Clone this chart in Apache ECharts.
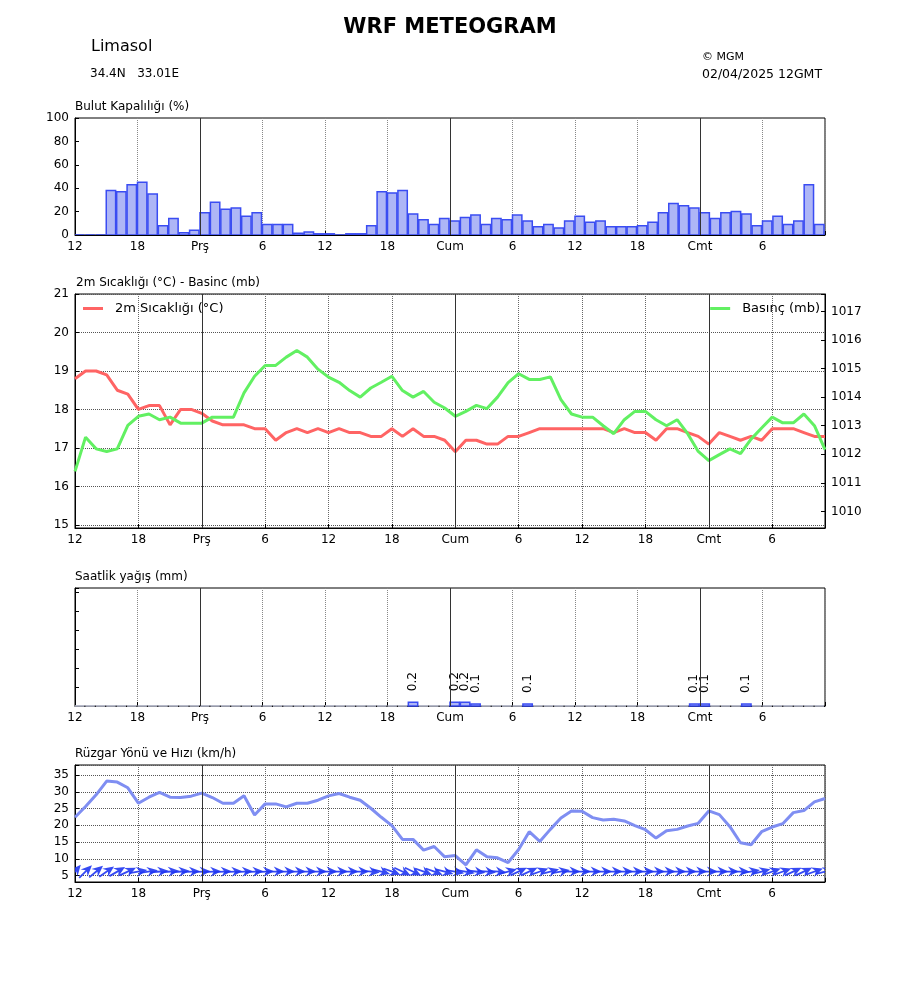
<!DOCTYPE html>
<html><head><meta charset="utf-8">
<script src="https://cdn.jsdelivr.net/npm/echarts@6/dist/echarts.min.js"></script>
<style>html,body{margin:0;padding:0;background:#fff}#c{width:900px;height:1000px}</style>
</head><body><div id="c"></div>
<script>
// ---- data ----
const hourTickLabels = ['12','18','Prş','6','12','18','Cum','6','12','18','Cmt','6'];
const dayStartHours = [12, 36, 60];
const cloudCover = [0,0,0,38,37,43,45,35,8,14,2,4,19,28,22,23,16,19,9,9,9,1.5,2.5,1,1,0,1,1,8,37,36,38,18,13,9,14,12,15,17,9,14,13,17,12,7,9,6,12,16,11,12,7,7,7,8,11,19,27,25,23,19,14,19,20,18,8,12,16,9,12,43,9];
const temperature = [18.8,19.0,19.0,18.9,18.5,18.4,18.0,18.1,18.1,17.6,18.0,18.0,17.9,17.7,17.6,17.6,17.6,17.5,17.5,17.2,17.4,17.5,17.4,17.5,17.4,17.5,17.4,17.4,17.3,17.3,17.5,17.3,17.5,17.3,17.3,17.2,16.9,
  17.2,17.2,17.1,17.1,17.3,17.3,17.4,17.5,17.5,17.5,17.5,17.5,17.5,17.5,17.4,17.5,17.4,17.4,17.2,17.5,17.5,17.4,17.3,17.1,17.4,17.3,17.2,17.3,17.2,17.5,17.5,17.5,17.4,17.3,17.3];
const pressure = [1011.40,1012.60,1012.19,1012.10,1012.19,1013.01,1013.33,1013.41,1013.21,1013.30,1013.09,1013.09,1013.09,1013.30,1013.30,1013.30,1014.15,1014.73,1015.11,1015.11,1015.40,1015.63,1015.40,1014.98,1014.70,1014.52,1014.23,1014.00,1014.32,1014.52,1014.73,1014.23,1014.00,1014.20,1013.82,1013.62,1013.33,
  1013.50,1013.71,1013.60,1014.00,1014.51,1014.82,1014.62,1014.62,1014.71,1013.91,1013.41,1013.30,1013.30,1013.00,1012.72,1013.21,1013.50,1013.50,1013.21,1013.00,1013.21,1012.72,1012.10,1011.78,1011.99,1012.19,1012.02,1012.53,1012.92,1013.30,1013.10,1013.10,1013.41,1013.00,1012.16];
const precipitation = [0,0,0,0,0,0,0,0,0,0,0,0,0,0,0,0,0,0,0,0,0,0,0,0,0,0,0,0,0,0,0,0,0.2,0,0,0,0.2,0.2,0.1,0,0,0,0,0.1,0,0,0,0,0,0,0,0,0,0,0,0,0,0,0,0.1,0.1,0,0,0,0.1,0,0,0,0,0,0,0];
const windSpeed = [22.4,25.6,29.1,33.2,32.9,31.2,26.6,28.4,29.8,28.4,28.3,28.7,29.6,28.3,26.6,26.6,28.8,23.1,26.4,26.4,25.5,26.6,26.6,27.5,28.8,29.5,28.4,27.5,25.1,22.4,19.9,15.8,15.8,12.6,13.7,10.6,11.0,
  8.2,12.7,10.6,10.3,8.9,12.8,18.1,15.2,18.8,22.2,24.3,24.2,22.3,21.6,21.8,21.3,19.9,18.7,16.2,18.4,18.8,19.8,20.6,24.3,23.2,19.6,14.8,14.2,18.1,19.5,20.5,23.8,24.4,27.0,28.0];
// arrow heading in degrees (0 = towards east, positive = upward)
const windHeading = [50,45,40,35,30,25,
  10,8,5,5,5,3,3,3,3,3,3,3,3,0,0,0,0,0,0,0,0,0,
  -5,-15,-20,-25,-25,-20,-20,-15,-10,
  -10,-8,-5,-5,
  15,25,25,20,15,10,
  0,0,0,0,0,0,0,0,0,0,0,0,0,0,0,0,0,
  10,15,20,20,25,25,20,15];

// ---- styles ----
const FONT = 'DejaVu Sans';
const barFill = '#aeb6f6', barEdge = '#3a4cf2';
const L = 75, W = 750;
const grids = [
  {left: L, top: 118, width: W, height: 117},
  {left: L, top: 294, width: W, height: 234},
  {left: L, top: 588, width: W, height: 118},
  {left: L, top: 765, width: W, height: 117}
];
const xMax = [72, 71, 72, 71];

function xAxisFor(i) {
  return {
    type: 'value', gridIndex: i, min: 0, max: xMax[i], interval: 6,
    axisLine: {show: true, onZero: false, lineStyle: {color: '#000', width: 1}},
    axisTick: {show: true, inside: true, length: 4, lineStyle: {color: '#000'}},
    axisLabel: {
      color: '#000', fontSize: 12, fontFamily: FONT, margin: 6,
      formatter: v => (v % 6 === 0 && v / 6 < hourTickLabels.length) ? hourTickLabels[v / 6] : ''
    },
    splitLine: {show: true, lineStyle: {color: i === 1 || i === 3 ? '#666' : '#888', type: 'dotted', width: 1}}
  };
}
const intFmt = v => Math.abs(v - Math.round(v)) < 1e-6 ? String(Math.round(v)) : '';
const yBase = {
  axisLine: {show: true, lineStyle: {color: '#000'}},
  axisTick: {show: true, inside: true, length: 4, lineStyle: {color: '#000'}},
  axisLabel: {color: '#000', fontSize: 12, fontFamily: FONT, margin: 6}
};
const dayLines = {
  silent: true, symbol: 'none', label: {show: false},
  lineStyle: {color: '#333', type: 'solid', width: 1},
  data: dayStartHours.map(h => ({xAxis: h}))
};

function barRenderer(edgeZero) {
  return function (params, api) {
    const h = api.value(0), v = api.value(1);
    const p0 = api.coord([h, 0]);
    const p1 = api.coord([h + 0.9, v]);
    return {
      type: 'rect',
      shape: {x: p0[0], y: p1[1], width: p1[0] - p0[0], height: p0[1] - p1[1]},
      style: {fill: barFill, stroke: v === 0 && edgeZero ? edgeZero : barEdge, lineWidth: 1.5}
    };
  };
}

const arrowPts = [[-9,-0.9],[1,-0.9],[-2,-5],[9,0],[-2,5],[1,0.9],[-9,0.9]];
const arrowLevel = 6.2;

const option = {
  animation: false,
  backgroundColor: '#fff',
  textStyle: {fontFamily: FONT},
  grid: grids.map(g => Object.assign({show: true, borderColor: '#000', borderWidth: 1, backgroundColor: 'transparent'}, g)),
  xAxis: [0,1,2,3].map(xAxisFor),
  yAxis: [
    Object.assign({}, yBase, {type: 'value', gridIndex: 0, min: 0, max: 100, interval: 20, splitLine: {show: false}}),
    Object.assign({}, yBase, {type: 'value', gridIndex: 1, min: 14.92, max: 21, minInterval: 1, maxInterval: 1, splitNumber: 6,
      axisLabel: Object.assign({}, yBase.axisLabel, {formatter: intFmt}),
      splitLine: {show: true, lineStyle: {color: '#555', type: 'dotted', width: 1}}}),
    Object.assign({}, yBase, {type: 'value', gridIndex: 1, position: 'right', min: 1009.42, max: 1017.61, minInterval: 1, maxInterval: 1, splitNumber: 8,
      axisLabel: Object.assign({}, yBase.axisLabel, {formatter: intFmt}),
      splitLine: {show: false}}),
    Object.assign({}, yBase, {type: 'value', gridIndex: 2, min: 0, max: 6.2, interval: 1,
      axisLabel: {show: false}, splitLine: {show: false}}),
    Object.assign({}, yBase, {type: 'value', gridIndex: 3, min: 3.1, max: 38, minInterval: 5, maxInterval: 5, splitNumber: 7,
      axisLabel: Object.assign({}, yBase.axisLabel, {formatter: v => (Math.abs(v % 5) < 1e-6 ? String(v) : '')}),
      splitLine: {show: true, lineStyle: {color: '#555', type: 'dotted', width: 1}}})
  ],
  legend: [
    {data: ['2m Sıcaklığı (°C)'], left: 83, top: 302, padding: 0, icon: 'rect', itemWidth: 20, itemHeight: 3,
      textStyle: {fontSize: 13, fontFamily: FONT, color: '#000', padding: [0,0,0,7]}},
    {data: ['Basınç (mb)'], right: 80, top: 302, padding: 0, icon: 'rect', itemWidth: 20, itemHeight: 3,
      textStyle: {fontSize: 13, fontFamily: FONT, color: '#000', padding: [0,0,0,7]}}
  ],
  graphic: [
    {type: 'text', left: 'center', top: 17, style: {text: 'WRF METEOGRAM', font: 'bold 21px "DejaVu Sans"', fill: '#000'}},
    {type: 'text', x: 91, y: 47, style: {text: 'Limasol', font: '16px "DejaVu Sans"', fill: '#000', verticalAlign: 'middle'}},
    {type: 'text', x: 90, y: 74, style: {text: '34.4N   33.01E', font: '12px "DejaVu Sans"', fill: '#000', verticalAlign: 'middle'}},
    {type: 'text', x: 702, y: 57, style: {text: '© MGM', font: '11px "DejaVu Sans"', fill: '#000', verticalAlign: 'middle'}},
    {type: 'text', x: 702, y: 75, style: {text: '02/04/2025 12GMT', font: '12.5px "DejaVu Sans"', fill: '#000', verticalAlign: 'middle'}},
    {type: 'text', x: 75, y: 107, style: {text: 'Bulut Kapalılığı (%)', font: '12px "DejaVu Sans"', fill: '#000', verticalAlign: 'middle'}},
    {type: 'text', x: 76, y: 283, style: {text: '2m Sıcaklığı (°C) - Basinc (mb)', font: '12px "DejaVu Sans"', fill: '#000', verticalAlign: 'middle'}},
    {type: 'text', x: 75, y: 577, style: {text: 'Saatlik yağış (mm)', font: '12px "DejaVu Sans"', fill: '#000', verticalAlign: 'middle'}},
    {type: 'text', x: 75, y: 754, style: {text: 'Rüzgar Yönü ve Hızı (km/h)', font: '12px "DejaVu Sans"', fill: '#000', verticalAlign: 'middle'}}
  ],
  series: [
    {
      type: 'custom', name: 'cloud', xAxisIndex: 0, yAxisIndex: 0, clip: true,
      data: cloudCover.map((v, i) => [i, v]),
      renderItem: barRenderer(null),
      markLine: dayLines
    },
    {
      type: 'line', name: '2m Sıcaklığı (°C)', xAxisIndex: 1, yAxisIndex: 1,
      data: temperature.map((v, i) => [i, v]), showSymbol: false, symbol: 'none',
      lineStyle: {color: '#ff6464', width: 3}, itemStyle: {color: '#ff6464'},
      markLine: dayLines, z: 3
    },
    {
      type: 'line', name: 'Basınç (mb)', xAxisIndex: 1, yAxisIndex: 2,
      data: pressure.map((v, i) => [i, v]), showSymbol: false, symbol: 'none',
      lineStyle: {color: '#62f062', width: 3}, itemStyle: {color: '#62f062'}, z: 3
    },
    {
      type: 'custom', name: 'precip', xAxisIndex: 2, yAxisIndex: 3, clip: false,
      data: precipitation.map((v, i) => [i, v]),
      renderItem: function (params, api) {
        const h = api.value(0), v = api.value(1);
        const p0 = api.coord([h, 0]);
        const p1 = api.coord([h + 0.9, v]);
        const children = [{
          type: 'rect',
          shape: {x: p0[0], y: p1[1], width: p1[0] - p0[0], height: p0[1] - p1[1]},
          style: {fill: barFill, stroke: v === 0 ? '#c9cde0' : barEdge, lineWidth: v === 0 ? 1 : 1.5}
        }];
        if (v > 0) {
          children.push({
            type: 'text', x: (p0[0] + p1[0]) / 2, y: p1[1] - 11, rotation: Math.PI / 2,
            style: {text: v.toFixed(1), font: '12px "DejaVu Sans"', fill: '#000', align: 'left', verticalAlign: 'middle'}
          });
        }
        return {type: 'group', children};
      },
      markLine: dayLines
    },
    {
      type: 'line', name: 'wind', xAxisIndex: 3, yAxisIndex: 4,
      data: windSpeed.map((v, i) => [i, v]), showSymbol: false, symbol: 'none',
      lineStyle: {color: '#7f8ef2', width: 3}, markLine: dayLines, z: 3
    },
    {
      type: 'custom', name: 'windDir', xAxisIndex: 3, yAxisIndex: 4, clip: true, z: 4,
      data: windHeading.map((d, i) => [i, d]),
      renderItem: function (params, api) {
        const p = api.coord([api.value(0), arrowLevel]);
        return {
          type: 'polygon', x: p[0], y: p[1], rotation: api.value(1) * Math.PI / 180,
          shape: {points: arrowPts},
          style: {fill: '#2036f2', opacity: 0.9}
        };
      }
    }
  ]
};
const chart = echarts.init(document.getElementById('c'), null, {renderer: 'canvas'});
chart.setOption(option);
</script>
</body></html>
